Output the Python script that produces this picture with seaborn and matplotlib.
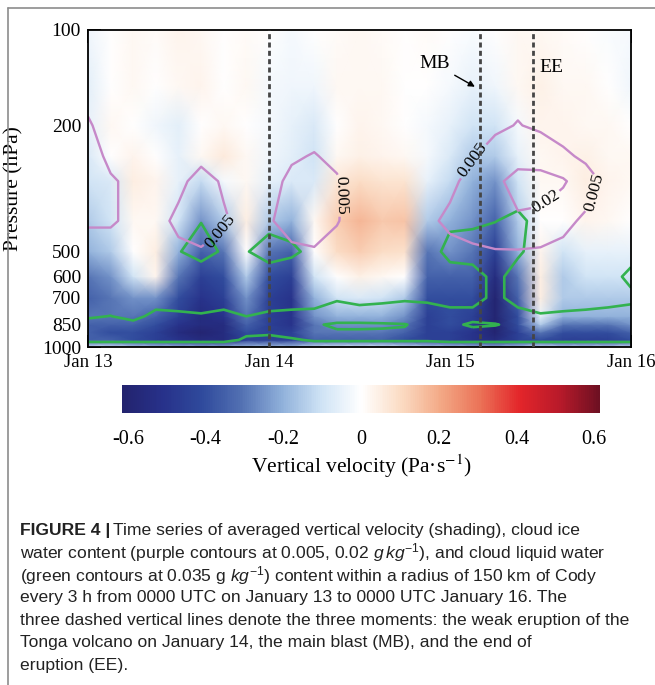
import numpy as np
import seaborn as sns
import matplotlib
matplotlib.use("Agg")
import matplotlib.pyplot as plt
from matplotlib.colors import Normalize
from matplotlib.cm import ScalarMappable
from matplotlib.lines import Line2D
from matplotlib.ticker import NullLocator

sns.set_style("white")
plt.rcParams['font.family'] = ['Liberation Serif', 'DejaVu Serif']
plt.rcParams['axes.unicode_minus'] = False
plt.rcParams['text.color'] = 'black'
plt.rcParams['axes.labelcolor'] = 'black'
plt.rcParams['xtick.color'] = 'black'
plt.rcParams['ytick.color'] = 'black'
plt.rcParams['mathtext.fontset'] = 'custom'
plt.rcParams['mathtext.rm'] = 'Liberation Sans'
plt.rcParams['mathtext.it'] = 'Liberation Sans:italic'

# ---------------- data ----------------
hours = list(range(0, 73, 3))          # 0000 UTC Jan 13 ... 0000 UTC Jan 16, every 3 h
pressure = [1000, 950, 900, 850, 800, 700, 600, 500, 400, 300, 250, 200, 150, 100]

# vertical velocity (Pa s-1), one row per pressure level
w_1000 = [-0.12,-0.12,-0.15,-0.18,-0.2,-0.22,-0.22,-0.18,-0.18,-0.18,-0.12,-0.1,-0.1,-0.1,-0.12,-0.15,-0.18,-0.2,-0.22,-0.18,-0.12,-0.15,-0.15,-0.15,-0.12]
w_950 = [-0.35,-0.35,-0.4,-0.45,-0.5,-0.55,-0.55,-0.45,-0.45,-0.45,-0.35,-0.35,-0.35,-0.35,-0.4,-0.45,-0.45,-0.5,-0.55,-0.45,-0.4,-0.45,-0.45,-0.45,-0.4]
w_900 = [-0.35,-0.4,-0.4,-0.45,-0.55,-0.6,-0.55,-0.4,-0.45,-0.45,-0.3,-0.3,-0.3,-0.3,-0.35,-0.45,-0.45,-0.5,-0.6,-0.45,-0.3,-0.4,-0.4,-0.4,-0.35]
w_850 = [-0.35,-0.35,-0.35,-0.4,-0.5,-0.55,-0.55,-0.35,-0.45,-0.5,-0.3,-0.25,-0.25,-0.25,-0.3,-0.45,-0.4,-0.45,-0.6,-0.4,-0.15,-0.3,-0.3,-0.3,-0.25]
w_800 = [-0.3,-0.3,-0.3,-0.35,-0.45,-0.55,-0.5,-0.3,-0.45,-0.5,-0.25,-0.2,-0.2,-0.2,-0.25,-0.45,-0.4,-0.45,-0.6,-0.4,-0.05,-0.2,-0.2,-0.2,-0.2]
w_700 = [-0.35,-0.3,-0.25,-0.25,-0.4,-0.5,-0.45,-0.25,-0.45,-0.5,-0.2,-0.1,-0.08,-0.1,-0.15,-0.4,-0.4,-0.4,-0.6,-0.35,0.05,-0.15,-0.15,-0.15,-0.15]
w_600 = [-0.3,-0.25,-0.1,0.03,-0.3,-0.45,-0.4,-0.15,-0.4,-0.45,-0.1,0.0,0.04,0.02,0.0,-0.35,-0.35,-0.35,-0.55,-0.3,0.05,-0.15,-0.1,-0.1,-0.1]
w_500 = [-0.2,-0.15,0.0,0.05,-0.2,-0.35,-0.3,0.0,-0.3,-0.35,0.0,0.1,0.13,0.1,0.09,-0.3,-0.25,-0.3,-0.45,-0.2,0.03,-0.1,-0.05,-0.05,-0.05]
w_400 = [-0.15,-0.1,0.02,0.02,-0.1,-0.25,-0.15,0.05,-0.15,-0.2,0.02,0.13,0.18,0.14,0.15,-0.15,-0.2,-0.25,-0.35,-0.15,0.0,0.0,0.03,0.02,0.0]
w_300 = [-0.1,-0.08,0.05,0.03,-0.05,-0.12,-0.02,0.02,-0.05,-0.08,-0.08,0.07,0.1,0.08,0.08,-0.05,-0.12,-0.2,-0.25,-0.1,0.02,0.02,0.05,0.03,0.02]
w_250 = [-0.08,0.0,0.03,0.0,-0.05,0.02,0.06,0.02,-0.03,-0.06,-0.1,0.02,0.04,0.03,0.02,-0.02,-0.08,-0.15,-0.15,-0.05,0.02,0.03,0.04,0.02,0.02]
w_200 = [-0.05,0.02,0.0,-0.03,-0.06,0.0,0.02,0.0,-0.02,-0.05,-0.08,0.0,0.03,0.02,0.0,-0.02,-0.05,-0.1,-0.1,-0.02,0.03,0.03,0.02,0.02,0.0]
w_150 = [-0.06,0.0,0.02,0.0,0.02,0.03,0.0,0.02,-0.02,-0.03,-0.03,0.02,0.02,0.02,0.0,0.0,-0.02,-0.05,-0.03,0.02,0.04,0.02,0.02,0.0,-0.03]
w_100 = [-0.03,0.0,0.02,0.01,0.03,0.02,0.0,0.01,0.0,-0.02,0.0,0.01,0.02,0.01,0.0,0.01,0.0,-0.01,0.0,0.02,0.02,0.01,0.0,-0.01,-0.02]

# cloud ice water content (g kg-1)
zeros25 = [0.0] * 25
ice_1000 = zeros25
ice_950 = zeros25
ice_900 = zeros25
ice_850 = zeros25
ice_800 = zeros25
ice_700 = zeros25
ice_600 = zeros25
ice_500 = [0.001,0.001,0,0,0.003,0.004,0.002,0,0,0.003,0.004,0.002,0,0,0,0,0.002,0.003,0.004,0.004,0.003,0.002,0,0,0]
ice_400 = [0.006,0.006,0.003,0.002,0.007,0.01,0.006,0.002,0.004,0.009,0.01,0.0055,0.001,0,0.001,0.003,0.007,0.01,0.015,0.018,0.016,0.008,0.003,0.001,0]
ice_300 = [0.009,0.006,0.003,0.001,0.003,0.008,0.004,0.001,0.002,0.007,0.01,0.006,0.001,0,0,0.001,0.003,0.008,0.017,0.025,0.026,0.022,0.01,0.002,0]
ice_250 = [0.009,0.003,0.001,0,0.001,0.003,0.002,0,0.001,0.004,0.0055,0.003,0.001,0,0,0.001,0.002,0.0045,0.01,0.015,0.013,0.007,0.003,0.001,0]
ice_200 = [0.006,0.001,0,0,0,0,0,0,0,0.001,0.002,0,0,0,0,0,0,0,0.003,0.0055,0.003,0.001,0,0,0]
ice_150 = [0.002,0,0,0,0,0,0,0,0,0,0,0,0,0,0,0,0,0,0,0.002,0,0,0,0,0]
ice_100 = zeros25

# cloud liquid water content (g kg-1)
liq_1000 = [0.01] * 25
liq_950 = [0.045,0.045,0.045,0.045,0.045,0.045,0.045,0.03,0.025,0.03,0.04,0.04,0.04,0.04,0.04,0.04,0.045,0.045,0.045,0.045,0.045,0.045,0.045,0.045,0.045]
liq_900 = [0.05,0.05,0.05,0.05,0.05,0.05,0.05,0.04,0.04,0.05,0.05,0.04,0.04,0.04,0.04,0.05,0.05,0.05,0.05,0.05,0.05,0.05,0.05,0.05,0.05]
liq_850 = [0.05,0.05,0.05,0.05,0.05,0.05,0.05,0.05,0.05,0.05,0.04,0.028,0.028,0.03,0.033,0.05,0.045,0.028,0.033,0.045,0.05,0.05,0.05,0.05,0.05]
liq_800 = [0.03,0.036,0.02,0.05,0.045,0.04,0.05,0.035,0.045,0.05,0.05,0.06,0.06,0.06,0.06,0.05,0.05,0.05,0.05,0.05,0.04,0.045,0.05,0.055,0.055]
liq_700 = [0.01,0.01,0.005,0.01,0.01,0.01,0.01,0.005,0.01,0.01,0.015,0.03,0.02,0.025,0.03,0.03,0.02,0.02,0.045,0.02,0.01,0.01,0.01,0.015,0.025]
liq_600 = [0,0,0,0,0,0.01,0,0,0.015,0,0,0,0,0,0,0.015,0.02,0.02,0.045,0.02,0,0,0,0.02,0.045]
liq_500 = [0,0,0,0.01,0.033,0.05,0.03,0.033,0.05,0.045,0.02,0.005,0,0,0,0.02,0.045,0.05,0.06,0.04,0.02,0,0,0,0.02]
liq_400 = [0,0,0,0,0.02,0.034,0.01,0.01,0.025,0.015,0,0,0,0,0,0,0.03,0.03,0.034,0.045,0.02,0,0,0,0]
liq_300 = [0,0,0,0,0,0,0,0,0,0,0,0,0,0,0,0,0,0,0.01,0.01,0,0,0,0,0]
liq_250 = zeros25
liq_200 = zeros25
liq_150 = zeros25
liq_100 = zeros25

ice_levels = [0.005, 0.02]
liq_levels = [0.035]
cbar_ticks = [-0.6, -0.4, -0.2, 0.0, 0.2, 0.4, 0.6]
cbar_ticklabels = ['-0.6', '-0.4', '-0.2', '0', '0.2', '0.4', '0.6']
x_ticks = [0, 24, 48, 72]
x_ticklabels = ['Jan 13', 'Jan 14', 'Jan 15', 'Jan 16']
y_ticks = [100, 200, 500, 600, 700, 850, 1000]
event_hours = [24, 52, 59]   # weak eruption, main blast (MB), end of eruption (EE)

W = np.array([w_1000, w_950, w_900, w_850, w_800, w_700, w_600, w_500, w_400, w_300, w_250, w_200, w_150, w_100])
ICE = np.array([ice_1000, ice_950, ice_900, ice_850, ice_800, ice_700, ice_600, ice_500, ice_400, ice_300, ice_250, ice_200, ice_150, ice_100])
LIQ = np.array([liq_1000, liq_950, liq_900, liq_850, liq_800, liq_700, liq_600, liq_500, liq_400, liq_300, liq_250, liq_200, liq_150, liq_100])

# ---------------- colours ----------------
cmap = sns.blend_palette(['#23236e', '#27318a', '#2f4a9c', '#5371b3', '#8fb0da', '#cfe3f5', '#ffffff',
                          '#fbdcc4', '#f3a986', '#eb7257', '#e3252a', '#b81a2a', '#6e1022'], as_cmap=True)
norm = Normalize(vmin=-0.615, vmax=0.615)

W_PX, H_PX = 655, 685
fig = plt.figure(figsize=(W_PX / 100, H_PX / 100), dpi=100)
fig.patch.set_facecolor('white')

def fx(px):
    return px / W_PX

def fy(py):
    return 1 - py / H_PX

ax = fig.add_axes([fx(88), fy(347), (631 - 88) / W_PX, (347 - 30) / H_PX])
ax.pcolormesh(hours, pressure, W, cmap=cmap, norm=norm, shading='gouraud', rasterized=True)
ax.set_yscale('log')
ax.set_ylim(1000, 100)
ax.set_xlim(0, 72)

cs_liq = ax.contour(hours, pressure, LIQ, levels=liq_levels, colors='#33b24f', linewidths=1.9)
cs_ice = ax.contour(hours, pressure, ICE, levels=ice_levels, colors='#c689c9', linewidths=1.7)
ax.clabel(cs_ice, fmt={0.005: '0.005', 0.02: '0.02'}, fontsize=12.5, colors='black', inline=True,
          inline_spacing=2, manual=[(17.1, 418), (32.8, 331), (51.6, 263), (67.5, 327), (60.9, 351)])

for h in event_hours:
    ax.axvline(h, color='#454545', lw=2.0, dashes=(1.8, 1.2), zorder=5)

ax.annotate('MB', xy=(51.3, 151), xytext=(46.0, 128), fontsize=14, ha='center', va='center',
            arrowprops=dict(arrowstyle='-|>', color='black', lw=1.0, mutation_scale=9, shrinkA=1, shrinkB=0))
ax.text(61.4, 131, 'EE', fontsize=14, ha='center', va='center')

ax.set_xticks(x_ticks)
ax.set_xticklabels(x_ticklabels)
ax.set_yticks(y_ticks)
ax.set_yticklabels([str(v) for v in y_ticks])
ax.yaxis.set_minor_locator(NullLocator())
ax.tick_params(axis='x', direction='in', length=9, width=1.3, top=True, bottom=True, labelsize=13.5, pad=5, colors='black')
ax.tick_params(axis='y', direction='in', length=9, width=1.3, left=True, right=False, labelsize=14, pad=5, colors='black')
for s in ax.spines.values():
    s.set_color('black')
    s.set_linewidth(1.3)
ax.set_ylabel('Pressure (hPa)', fontsize=15.5)
ax.yaxis.set_label_coords((23 - 88) / 543, 0.5)

# colour bar
cax = fig.add_axes([fx(122), fy(413), (600 - 122) / W_PX, (413 - 385) / H_PX])
sm = ScalarMappable(norm=norm, cmap=cmap)
cb = fig.colorbar(sm, cax=cax, orientation='horizontal', ticks=cbar_ticks)
cb.set_ticklabels(cbar_ticklabels)
cb.outline.set_visible(False)
cax.tick_params(length=0, labelsize=14.5, pad=12, colors='black')
cb.set_label('Vertical velocity (Pa·s$^{-1}$)', fontsize=15.5, labelpad=3, math_fontfamily='stix', color='black')

# frame of the figure panel
fig.add_artist(Line2D([fx(8), fx(8)], [0, fy(8)], transform=fig.transFigure, color='#8c8c8c', lw=1.2))
fig.add_artist(Line2D([fx(8), 1], [fy(8), fy(8)], transform=fig.transFigure, color='#8c8c8c', lw=1.2))

# caption
cap_font = ['Liberation Sans Narrow', 'Liberation Sans']
cap_size = 12.6
lines = [
    None,
    r'water content (purple contours at 0.005, 0.02 $g\,kg^{-1}$), and cloud liquid water',
    r'(green contours at 0.035 g $kg^{-1}$) content within a radius of 150 km of Cody',
    'every 3 h from 0000 UTC on January 13 to 0000 UTC January 16. The',
    'three dashed vertical lines denote the three moments: the weak eruption of the',
    'Tonga volcano on January 14, the main blast (MB), and the end of',
    'eruption (EE).',
]
y0, dy = 530, 22.6
t_bold = fig.text(fx(20), fy(y0), 'FIGURE 4 |', family=cap_font, fontsize=cap_size, fontweight='bold',
                  va='center', ha='left', color='#222222')
fig.canvas.draw()
bb = t_bold.get_window_extent(renderer=fig.canvas.get_renderer())
fig.text(bb.x1 / fig.dpi / fig.get_figwidth() + 0.004, fy(y0),
         'Time series of averaged vertical velocity (shading), cloud ice',
         family=cap_font, fontsize=cap_size, va='center', ha='left', color='#222222')
for i, ln in enumerate(lines):
    if ln is None:
        continue
    fig.text(fx(20), fy(y0 + i * dy), ln, family=cap_font, fontsize=cap_size, va='center', ha='left',
             color='#222222', math_fontfamily='custom')

fig.savefig('out.png', dpi=100, facecolor='white')
